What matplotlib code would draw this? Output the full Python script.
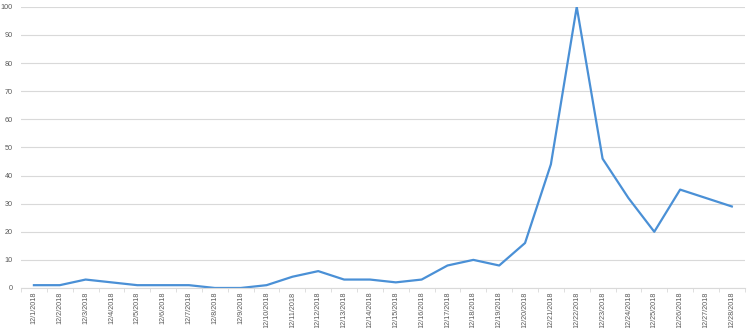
import numpy as np
import matplotlib.pyplot as plt

plt.rcParams['font.family'] = ['Liberation Sans', 'DejaVu Sans']

dates = [f"12/{d}/2018" for d in range(1, 29)]
values = [1, 1, 3, 2, 1, 1, 1, 0, 0, 1, 4, 6, 3, 3, 2, 3, 8, 10, 8, 16,
          44, 100, 46, 32, 20, 35, 32, 29]
y_ticks = list(range(0, 101, 10))

fig = plt.figure(figsize=(7.5, 3.28), dpi=100)
ax = fig.add_axes([0.028, 0.122, 0.965, 0.857])

x = np.arange(len(dates))
ax.plot(x, values, color='#4a90d6', linewidth=1.6, solid_joinstyle='round')

ax.set_xlim(-0.5, len(dates) - 0.5)
ax.set_ylim(0, 100)
ax.set_yticks(y_ticks)
ax.set_yticklabels([str(v) for v in y_ticks])
ax.yaxis.grid(True, color='#d9d9d9', linewidth=0.8)
ax.set_axisbelow(True)

ax.set_xticks(x)
ax.set_xticklabels(dates, rotation=90)
ax.set_xticks(np.arange(-0.5, len(dates), 1.0), minor=True)
ax.tick_params(axis='x', which='major', length=0, pad=2.5, labelsize=5.2, labelcolor='#595959')
ax.tick_params(axis='x', which='minor', length=3, color='#d9d9d9')
ax.tick_params(axis='y', length=0, pad=6, labelsize=5.2, labelcolor='#595959')

for s in ['top', 'right', 'left']:
    ax.spines[s].set_visible(False)
ax.spines['bottom'].set_color('#d9d9d9')
ax.spines['bottom'].set_linewidth(0.8)

fig.savefig('out.png', dpi=100)
